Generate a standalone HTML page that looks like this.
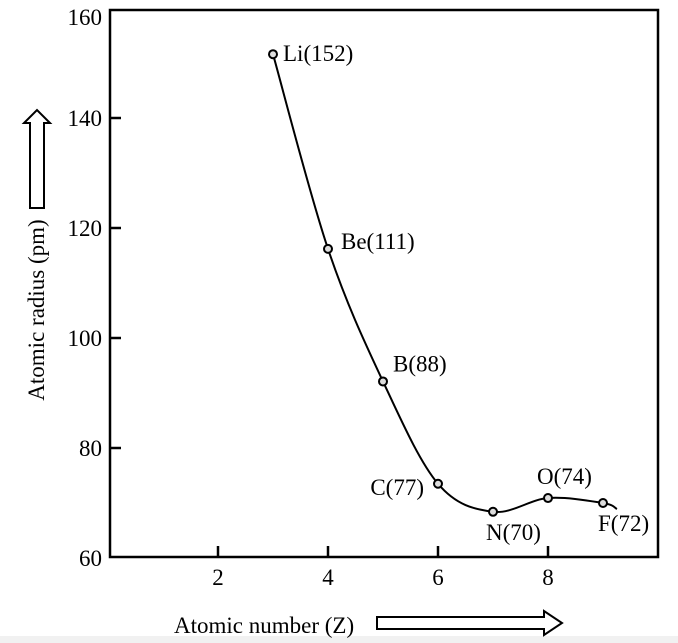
<!DOCTYPE html>
<html><head><meta charset="utf-8"><style>
html,body{margin:0;padding:0;background:#fff;}
svg{display:block;font-family:"Liberation Serif",serif;}
svg text{font-size:23px;}
</style></head><body>
<svg id="chart" width="678" height="643">
<rect x="0" y="636" width="678" height="7" fill="#f1f1f1"/>
<g id="axes"></g>
<g id="curve"></g>
<g id="points"></g>
<text x="44" y="310" text-anchor="middle" transform="rotate(-90 44 310)">Atomic radius (pm)</text>
<path d="M30,208 V123 H24 L37,110 L50,123 H44 V208 Z" fill="#fff" stroke="#000" stroke-width="2"/>
<text x="174" y="633">Atomic number (Z)</text>
<path d="M377,617 H544 V611 L562,623 L544,635 V629 H377 Z" fill="#fff" stroke="#000" stroke-width="2"/>
</svg>
<script>
const elements=["Li","Be","B","C","N","O","F"];
const atomicNumbers=[3,4,5,6,7,8,9];
const radii=[151.6,116.2,92.1,73.5,68.4,70.9,70.0];
const labels=["Li(152)","Be(111)","B(88)","C(77)","N(70)","O(74)","F(72)"];
const xTicks=[2,4,6,8];
const yTicks=[60,80,100,120,140,160];
const NS="http://www.w3.org/2000/svg";
const xs=v=>108+55*v, ys=v=>558-5.5*(v-60);
function mk(t,a,p){const e=document.createElementNS(NS,t);for(const k in a)e.setAttribute(k,a[k]);p.appendChild(e);return e;}
const ax=document.getElementById('axes');
const frame=mk('rect',{x:110,y:10,width:548,height:547,fill:'none',stroke:'#000','stroke-width':2.5},ax);


yTicks.forEach(v=>{
 if(v>60&&v<160){const l=mk('line',{x1:110,x2:121,y1:ys(v),y2:ys(v),stroke:'#000','stroke-width':2.5},ax);
 
 }
 const t=mk('text',{x:102,y:ys(v)+8+(v===160?9:0),'text-anchor':'end'},ax);t.textContent=v;
 
 
});
xTicks.forEach(v=>{
 const l=mk('line',{x1:xs(v),x2:xs(v),y1:557,y2:546,stroke:'#000','stroke-width':2.5},ax);
 
 
 const t=mk('text',{x:xs(v),y:585,'text-anchor':'middle'},ax);t.textContent=v;
 
 
});
const P=atomicNumbers.map((z,i)=>[xs(z),ys(radii[i])]);
const last=P[P.length-1];P.push([last[0]+14,last[1]+6]);
let d=`M${P[0][0]},${P[0][1]}`;
for(let i=0;i<P.length-1;i++){
 const p0=P[i-1]||P[i],p1=P[i],p2=P[i+1],p3=P[i+2]||p2;
 d+=` C${p1[0]+(p2[0]-p0[0])/6},${p1[1]+(p2[1]-p0[1])/6} ${p2[0]-(p3[0]-p1[0])/6},${p2[1]-(p3[1]-p1[1])/6} ${p2[0]},${p2[1]}`;
}
const c=mk('path',{d:d,fill:'none',stroke:'#000','stroke-width':2},document.getElementById('curve'));


const lo=[[10,7,'start'],[13,0,'start'],[10,-10,'start'],[-14,11,'end'],[-7,28,'start'],[-11,-14,'start'],[-5,28,'start']];
const pg=document.getElementById('points');
atomicNumbers.forEach((z,i)=>{
 const cx=xs(z),cy=ys(radii[i]);
 const ci=mk('circle',{cx:cx,cy:cy,r:4,fill:'#ddd',stroke:'#000','stroke-width':2},pg);
 
 
 const t=mk('text',{x:cx+lo[i][0],y:cy+lo[i][1],'text-anchor':lo[i][2]},pg);
 t.textContent=labels[i];
 
 
});
</script>
</body></html>
